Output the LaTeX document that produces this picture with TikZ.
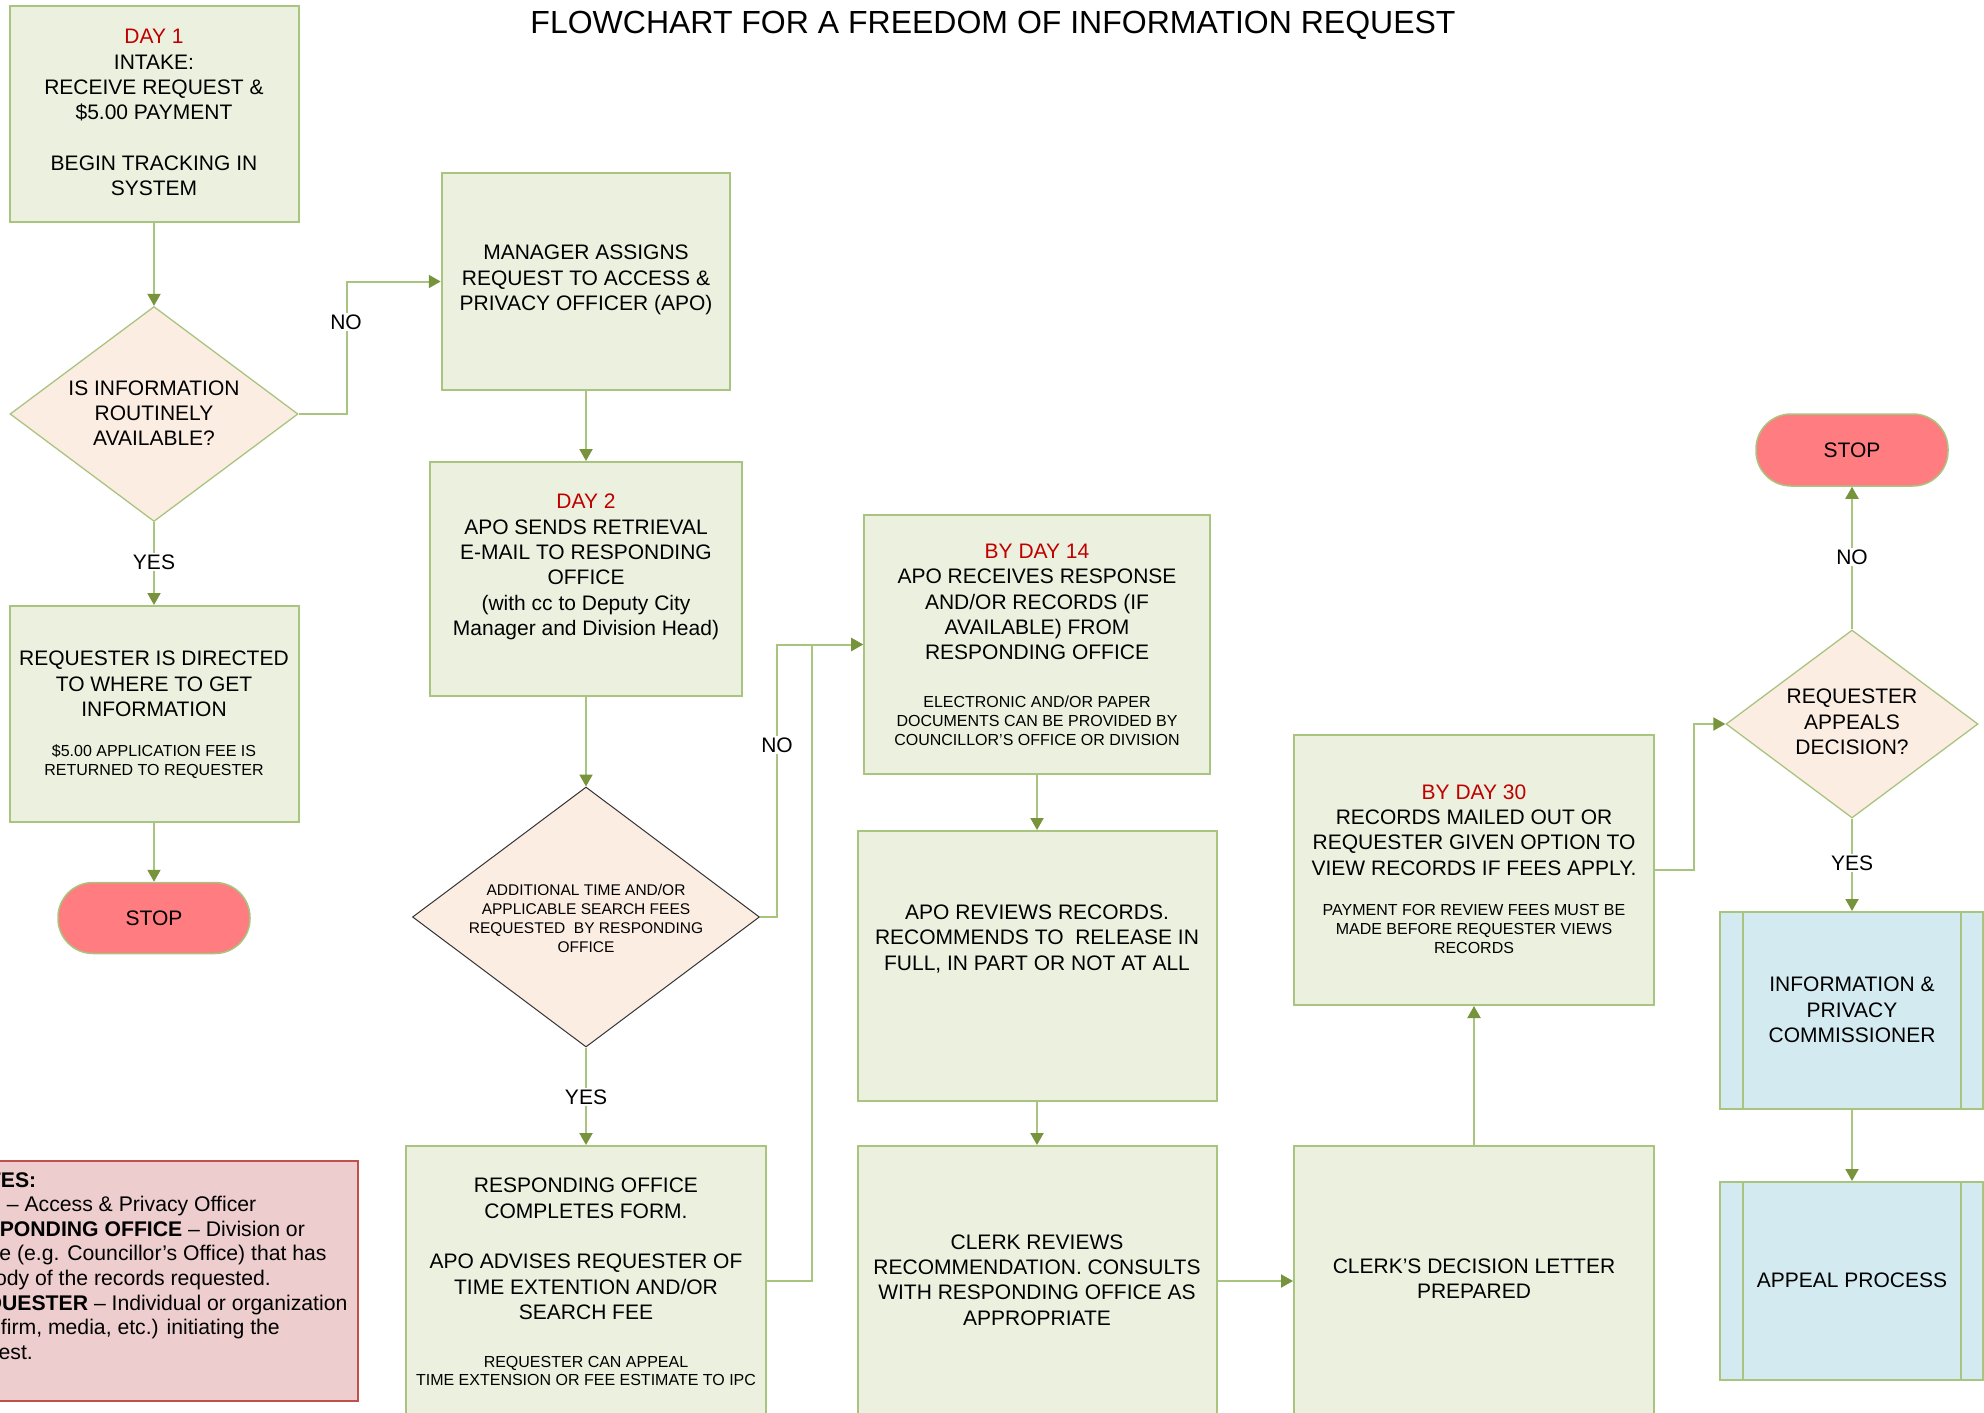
\documentclass[tikz,border=0pt]{standalone}
\usepackage{fontspec}
\setmainfont{Liberation Sans}
\usetikzlibrary{shapes.geometric,arrows.meta}
\definecolor{boxfill}{HTML}{EBF1DE}
\definecolor{boxline}{HTML}{A9C47F}
\definecolor{tipgreen}{HTML}{77933C}
\definecolor{dmfill}{HTML}{FCEDE3}
\definecolor{stopfill}{HTML}{FF7C80}
\definecolor{notefill}{HTML}{EDCDCD}
\definecolor{noteline}{HTML}{C0504D}
\definecolor{bluefill}{HTML}{D3EAF0}
\definecolor{dayred}{HTML}{C00000}
\tikzset{
  box/.style={draw=boxline, fill=boxfill, line width=2pt, inner sep=0pt},
  dmshape/.style={diamond, draw=boxline, fill=dmfill, line width=1.3pt, inner sep=0pt},
  stopbox/.style={draw=boxline, fill=stopfill, line width=1.5pt, rounded corners=35pt, inner sep=0pt},
  bluebox/.style={draw=boxline, fill=bluefill, line width=2pt, inner sep=0pt},
  bigtxt/.style={align=center, font=\fontsize{21}{25.3}\selectfont, inner sep=0pt},
  smalltxt/.style={align=center, font=\fontsize{16}{19}\selectfont, inner sep=0pt},
  dmtxt/.style={align=center, font=\fontsize{15.5}{19}\selectfont, inner sep=0pt},
  lbl/.style={fill=white, inner sep=2pt, font=\fontsize{21}{25}\selectfont},
  conn/.style={draw=boxline, line width=2pt, -{Triangle[width=13pt,length=12pt,color=tipgreen]}},
}
\begin{document}
\begin{tikzpicture}[x=1pt,y=-1pt]
\useasboundingbox (0,0) rectangle (1984,1413);
\clip (0,0) rectangle (1984,1413);

% title
\node[inner sep=0pt, font=\fontsize{32}{36}\selectfont] (title) at (993,25) {FLOWCHART FOR A FREEDOM OF INFORMATION REQUEST};

% column 1
\node[box, minimum width=289, minimum height=216] (b1) at (154,114) {};
\node[bigtxt] (b1t) at (154,112.5) {\textcolor{dayred}{DAY 1}\\ INTAKE:\\ RECEIVE REQUEST \&\\ \$5.00 PAYMENT\\[25.3pt] BEGIN TRACKING IN\\ SYSTEM};

\node[dmshape, minimum width=288, minimum height=215] (dm1) at (154,414) {};
\node[bigtxt] (dm1t) at (154,413) {IS INFORMATION\\ ROUTINELY\\ AVAILABLE?};

\node[box, minimum width=289, minimum height=216] (req) at (154,714) {};
\node[bigtxt] (reqt) at (154,684) {REQUESTER IS DIRECTED\\ TO WHERE TO GET\\ INFORMATION};
\node[smalltxt] (reqs) at (154,762) {\$5.00 APPLICATION FEE IS\\ RETURNED TO REQUESTER};

\node[stopbox, minimum width=192, minimum height=71] (stop1) at (154,918) {};
\node[bigtxt] (stop1t) at (154,918) {STOP};

% notes
\node[draw=noteline, fill=notefill, line width=2.5pt, inner sep=0pt, minimum width=418, minimum height=240] (notes) at (149,1281) {};
\node[align=left, anchor=west, inner sep=0pt, font=\fontsize{21.2}{24.6}\selectfont] (notest) at (-44,1268) {\textbf{NOTES:}\\ APO – Access \& Privacy Officer\\ \textbf{RESPONDING OFFICE} – Division or\\ Office (e.g. Councillor’s Office) that has\\ custody of the records requested.\\ \textbf{REQUESTER} – Individual or organization\\ (law firm, media, etc.) initiating the\\ request.};

% column 2
\node[box, minimum width=288.5, minimum height=217] (mgr) at (586,281.5) {};
\node[bigtxt] (mgrt) at (586,280) {MANAGER ASSIGNS\\ REQUEST TO ACCESS \&\\ PRIVACY OFFICER (APO)};

\node[box, minimum width=311.5, minimum height=234] (day2) at (586,579) {};
\node[bigtxt] (day2t) at (586,567) {\textcolor{dayred}{DAY 2}\\ APO SENDS RETRIEVAL\\ E-MAIL TO RESPONDING\\ OFFICE\\ (with cc to Deputy City\\ Manager and Division Head)};

\node[dmshape, draw=black!80, line width=1pt, minimum width=347, minimum height=260] (dm2) at (586,917) {};
\node[dmtxt] (dm2t) at (586,918) {ADDITIONAL TIME AND/OR\\ APPLICABLE SEARCH FEES\\ REQUESTED\ \ BY RESPONDING\\ OFFICE};

\node[box, minimum width=360, minimum height=270] (resp) at (586,1281) {};
\node[bigtxt] (respt) at (586,1249) {RESPONDING OFFICE\\ COMPLETES FORM.\\[25.3pt] APO ADVISES REQUESTER OF\\ TIME EXTENTION AND/OR\\ SEARCH FEE};
\node[smalltxt, font=\fontsize{16}{18}\selectfont] (resps) at (586,1371) {REQUESTER CAN APPEAL\\ TIME EXTENSION OR FEE ESTIMATE TO IPC};

% column 3
\node[box, minimum width=346, minimum height=259] (d14) at (1037,644.5) {};
\node[bigtxt] (d14t) at (1037,602) {\textcolor{dayred}{BY DAY 14}\\ APO RECEIVES RESPONSE\\ AND/OR RECORDS (IF\\ AVAILABLE) FROM\\ RESPONDING OFFICE};
\node[smalltxt] (d14s) at (1037,721) {ELECTRONIC AND/OR PAPER\\ DOCUMENTS CAN BE PROVIDED BY\\ COUNCILLOR’S OFFICE OR DIVISION};

\node[box, minimum width=359, minimum height=270] (rev) at (1037,966) {};
\node[bigtxt] (revt) at (1037,939) {APO REVIEWS RECORDS.\\ RECOMMENDS TO\ \ RELEASE IN\\ FULL, IN PART OR NOT AT ALL};

\node[box, minimum width=359, minimum height=270] (clerk) at (1037,1281) {};
\node[bigtxt] (clerkt) at (1037,1280) {CLERK REVIEWS\\ RECOMMENDATION. CONSULTS\\ WITH RESPONDING OFFICE AS\\ APPROPRIATE};

% column 4
\node[box, minimum width=360, minimum height=270] (dec) at (1474,1281) {};
\node[bigtxt] (dect) at (1474,1279) {CLERK’S DECISION LETTER\\ PREPARED};

\node[box, minimum width=360, minimum height=270] (d30) at (1474,870) {};
\node[bigtxt] (d30t) at (1474,830) {\textcolor{dayred}{BY DAY 30}\\ RECORDS MAILED OUT OR\\ REQUESTER GIVEN OPTION TO\\ VIEW RECORDS IF FEES APPLY.};
\node[smalltxt] (d30s) at (1474,929) {PAYMENT FOR REVIEW FEES MUST BE\\ MADE BEFORE REQUESTER VIEWS\\ RECORDS};

% column 5
\node[dmshape, minimum width=252, minimum height=188] (dm3) at (1852,724) {};
\node[bigtxt] (dm3t) at (1852,722) {REQUESTER\\ APPEALS\\ DECISION?};

\node[stopbox, minimum width=192, minimum height=72] (stop2) at (1852,450) {};
\node[bigtxt] (stop2t) at (1852,450) {STOP};

\node[bluebox, minimum width=263, minimum height=197] (ipc) at (1851.5,1010.5) {};
\draw[boxline, line width=2pt] ([xshift=24pt]ipc.north west) -- ([xshift=24pt]ipc.south west);
\draw[boxline, line width=2pt] ([xshift=-23pt]ipc.north east) -- ([xshift=-23pt]ipc.south east);
\node[bigtxt] (ipct) at (1852,1010) {INFORMATION \&\\ PRIVACY\\ COMMISSIONER};

\node[bluebox, minimum width=263, minimum height=198] (app) at (1851.5,1281) {};
\draw[boxline, line width=2pt] ([xshift=24pt]app.north west) -- ([xshift=24pt]app.south west);
\draw[boxline, line width=2pt] ([xshift=-23pt]app.north east) -- ([xshift=-23pt]app.south east);
\node[bigtxt] (appt) at (1852,1280) {APPEAL PROCESS};

% connectors
\draw[conn] (b1.south) -- (dm1.north);
\draw[conn] (dm1.east) -- ++(48,0) |- (mgr.west);
\draw[conn] (dm1.south) -- (req.north);
\draw[conn] (req.south) -- (stop1.north);
\draw[conn] (mgr.south) -- (day2.north);
\draw[conn] (day2.south) -- (dm2.north);
\draw[conn] (dm2.east) -- ++(17,0) |- (d14.west);
\draw[conn] (resp.east) -- ++(45,0) |- (d14.west);
\draw[conn] (dm2.south) -- (resp.north);
\draw[conn] (d14.south) -- (d14.south |- rev.north);
\draw[conn] (rev.south) -- (clerk.north);
\draw[conn] (clerk.east) -- (dec.west);
\draw[conn] (dec.north) -- (d30.south);
\draw[conn] (d30.east) -- ++(39,0) |- (dm3.west);
\draw[conn] (dm3.north) -- (stop2.south);
\draw[conn] (dm3.south) -- (ipc.north -| dm3.south);
\draw[conn] (ipc.south -| dm3.south) -- (app.north -| dm3.south);

% labels
\node[lbl] (no1) at (346,322) {NO};
\node[lbl] (yes1) at (154,562) {YES};
\node[lbl] (no2) at (777,745) {NO};
\node[lbl] (yes2) at (586,1097) {YES};
\node[lbl] (no3) at (1852,557) {NO};
\node[lbl] (yes3) at (1852,863) {YES};
\end{tikzpicture}
\end{document}
